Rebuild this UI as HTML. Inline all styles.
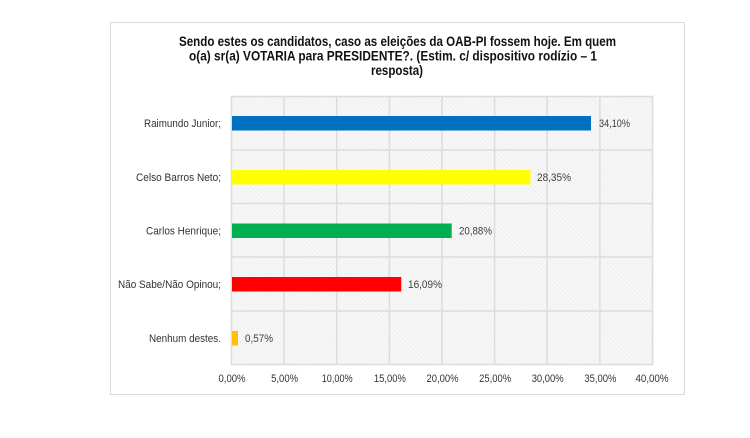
<!DOCTYPE html>
<html><head><meta charset="utf-8"><style>
html,body{margin:0;padding:0;background:#fff;}
svg{display:block;}
text{font-family:"Liberation Sans",Arial,sans-serif;}
</style></head><body>
<svg width="750" height="438" viewBox="0 0 750 438" xmlns="http://www.w3.org/2000/svg">
<defs>
<pattern id="h" width="3" height="3" patternUnits="userSpaceOnUse" patternTransform="rotate(-45)">
<rect width="3" height="3" fill="#f7f7f7"/>
<line x1="0" y1="0" x2="0" y2="3" stroke="#e8e8e8" stroke-width="1"/>
</pattern>
</defs>
<rect x="0" y="0" width="750" height="438" fill="#fff"/>
<rect x="110.5" y="22.5" width="574" height="372" fill="#fff" stroke="#d9d9d9" stroke-width="1"/>
<g font-weight="bold" font-size="14" fill="#111" text-anchor="middle">
<text x="397.5" y="46" textLength="437" lengthAdjust="spacingAndGlyphs">Sendo estes os candidatos, caso as eleições da OAB-PI fossem hoje. Em quem</text>
<text x="393" y="60.5" textLength="408" lengthAdjust="spacingAndGlyphs">o(a) sr(a) VOTARIA para PRESIDENTE?. (Estim. c/ dispositivo rodízio – 1</text>
<text x="397" y="75" textLength="52" lengthAdjust="spacingAndGlyphs">resposta)</text>
</g>
<rect x="231" y="96" width="422" height="269" fill="url(#h)"/>
<g stroke="#dcdcdc" stroke-width="1.5">
<line x1="231.5" y1="96" x2="231.5" y2="365"/>
<line x1="284.1" y1="96" x2="284.1" y2="365"/>
<line x1="336.7" y1="96" x2="336.7" y2="365"/>
<line x1="389.4" y1="96" x2="389.4" y2="365"/>
<line x1="442" y1="96" x2="442" y2="365"/>
<line x1="494.6" y1="96" x2="494.6" y2="365"/>
<line x1="547.2" y1="96" x2="547.2" y2="365"/>
<line x1="599.9" y1="96" x2="599.9" y2="365"/>
<line x1="652.5" y1="96" x2="652.5" y2="365"/>
<line x1="231" y1="96.5" x2="653" y2="96.5"/>
<line x1="231" y1="150" x2="653" y2="150"/>
<line x1="231" y1="203.5" x2="653" y2="203.5"/>
<line x1="231" y1="257" x2="653" y2="257"/>
<line x1="231" y1="311" x2="653" y2="311"/>
<line x1="231" y1="364.5" x2="653" y2="364.5"/>
</g>
<rect x="232" y="116" width="359" height="14.5" fill="#0070C0"/>
<rect x="232" y="170" width="298.4" height="14.5" fill="#FFFF00"/>
<rect x="232" y="223.5" width="219.7" height="14.5" fill="#00B050"/>
<rect x="232" y="277" width="169.3" height="14.5" fill="#FF0000"/>
<rect x="232" y="331" width="6" height="14.5" fill="#FFC000"/>
<g font-size="11" fill="#404040">
<text x="599" y="127" textLength="31" lengthAdjust="spacingAndGlyphs">34,10%</text>
<text x="537" y="181" textLength="34" lengthAdjust="spacingAndGlyphs">28,35%</text>
<text x="459" y="234.5" textLength="33" lengthAdjust="spacingAndGlyphs">20,88%</text>
<text x="408" y="288" textLength="34" lengthAdjust="spacingAndGlyphs">16,09%</text>
<text x="245" y="342" textLength="28" lengthAdjust="spacingAndGlyphs">0,57%</text>
</g>
<g font-size="11" fill="#333" text-anchor="end">
<text x="221" y="127" textLength="77" lengthAdjust="spacingAndGlyphs">Raimundo Junior;</text>
<text x="221" y="181" textLength="85" lengthAdjust="spacingAndGlyphs">Celso Barros Neto;</text>
<text x="221" y="234.5" textLength="75" lengthAdjust="spacingAndGlyphs">Carlos Henrique;</text>
<text x="221" y="288" textLength="103" lengthAdjust="spacingAndGlyphs">Não Sabe/Não Opinou;</text>
<text x="221" y="342" textLength="72" lengthAdjust="spacingAndGlyphs">Nenhum destes.</text>
</g>
<g font-size="11" fill="#333" text-anchor="middle">
<text x="232" y="382" textLength="27" lengthAdjust="spacingAndGlyphs">0,00%</text>
<text x="284.6" y="382" textLength="27" lengthAdjust="spacingAndGlyphs">5,00%</text>
<text x="337.2" y="382" textLength="31" lengthAdjust="spacingAndGlyphs">10,00%</text>
<text x="389.9" y="382" textLength="32" lengthAdjust="spacingAndGlyphs">15,00%</text>
<text x="442.5" y="382" textLength="32" lengthAdjust="spacingAndGlyphs">20,00%</text>
<text x="495.1" y="382" textLength="32" lengthAdjust="spacingAndGlyphs">25,00%</text>
<text x="547.7" y="382" textLength="32" lengthAdjust="spacingAndGlyphs">30,00%</text>
<text x="600.4" y="382" textLength="32" lengthAdjust="spacingAndGlyphs">35,00%</text>
<text x="652" y="382" textLength="33" lengthAdjust="spacingAndGlyphs">40,00%</text>
</g>
</svg>
</body></html>
